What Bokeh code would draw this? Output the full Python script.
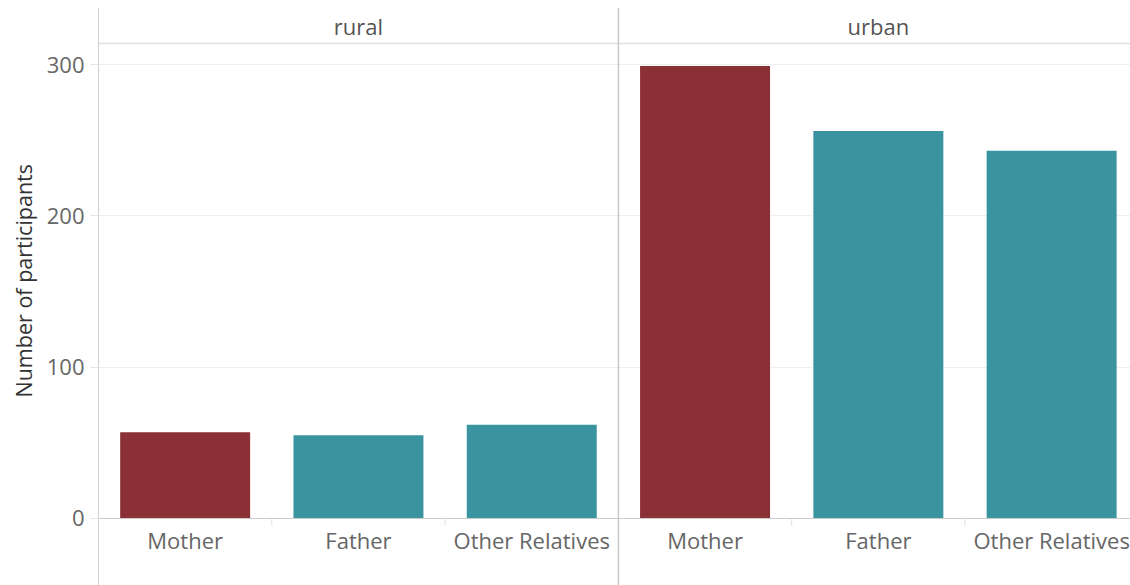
from bokeh.plotting import figure
from bokeh.models import Range1d, FixedTicker, Span, ColumnDataSource, Title
from bokeh.core.properties import value
from bokeh.embed import file_html
from bokeh.resources import INLINE

# ---- data ----
panels = ["rural", "urban"]
relations = ["Mother", "Father", "Other Relatives"]
rural_counts = [57, 55, 62]
urban_counts = [299, 256, 243]
y_ticks = [0, 100, 200, 300]
relation_colors = ["#8B3136", "#3A94A0", "#3A94A0"]
y_title = "Number of participants"

FONT = "Open Sans"
n_rel = len(relations)

bar_x, bar_top, bar_color, bar_label = [], [], [], []
for pi, counts in enumerate([rural_counts, urban_counts]):
    for ri, rel in enumerate(relations):
        bar_x.append(pi * n_rel + ri + 0.5)
        bar_top.append(counts[ri])
        bar_color.append(relation_colors[ri])
        bar_label.append(rel)

bars = ColumnDataSource(dict(x=bar_x, top=bar_top, color=bar_color, label=bar_label,
                             ly=[-14.5] * len(bar_x)))
heads = ColumnDataSource(dict(x=[pi * n_rel + n_rel / 2 for pi in range(len(panels))],
                              y=[325.8] * len(panels), text=panels))

n_total = len(panels) * n_rel
p = figure(width=1130, height=585, output_backend="svg", toolbar_location=None,
           x_range=Range1d(0, 5.955), y_range=Range1d(-44.3, 337.7),
           min_border_left=98, min_border_right=0, min_border_top=7, min_border_bottom=0)
p.outline_line_color = None
p.background_fill_color = "white"
p.border_fill_color = "white"
p.xaxis.visible = False
p.xgrid.visible = False

yax = p.yaxis[0]
yax.ticker = FixedTicker(ticks=y_ticks)
yax.minor_tick_line_color = None
yax.major_tick_in = 0
yax.major_tick_out = 8
yax.major_tick_line_color = "#E4E4E4"
yax.axis_line_color = "#D0D0D0"
yax.major_label_text_font = FONT
yax.major_label_text_font_size = "22px"
yax.major_label_text_color = "#666666"
yax.major_label_standoff = 6

p.ygrid.ticker = FixedTicker(ticks=y_ticks)
p.ygrid.grid_line_color = "#EFEFEF"
p.ygrid.grid_line_width = 1

p.vbar(x="x", top="top", bottom=0, width=0.75, color="color", source=bars, line_color=None)

# baseline, header separator, panel divider
p.add_layout(Span(location=0, dimension="width", line_color="#CCCCCC", line_width=1))
p.add_layout(Span(location=313.9, dimension="width", line_color="#E0E0E0", line_width=1.5))
p.add_layout(Span(location=n_rel, dimension="height", line_color="#C8C8C8", line_width=1.5))

# small ticks between categories
sep = [i for i in range(1, n_total) if i != n_rel]
p.segment(x0=sep, y0=[0] * len(sep), x1=sep, y1=[-5] * len(sep), line_color="#E2E2E2", line_width=1)

p.text(x="x", y="ly", text="label", source=bars, text_font=value(FONT), text_font_size="22px",
       text_color="#666666", text_align="center", text_baseline="middle")
p.text(x="x", y="y", text="text", source=heads, text_font=value(FONT), text_font_size="22px",
       text_color="#555555", text_align="center", text_baseline="middle")

p.add_layout(Title(text=y_title, align="left", offset=188, standoff=12,
                   text_font=FONT, text_font_size="21.5px", text_font_style="normal",
                   text_color="#333333"), "left")

open("out.html", "w").write(file_html(p, INLINE))
